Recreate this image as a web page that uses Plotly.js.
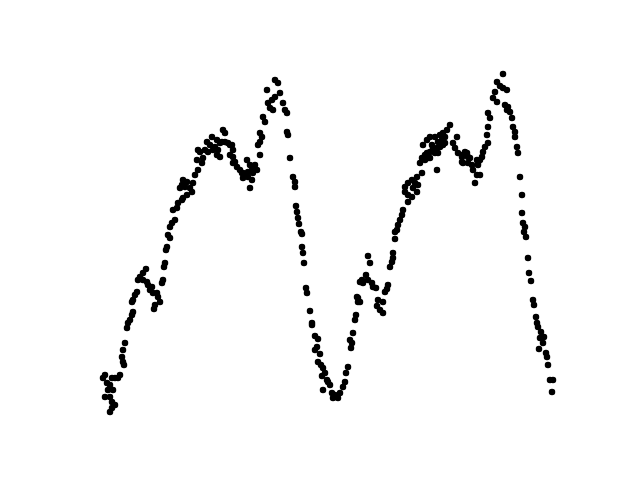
<!DOCTYPE html>
<html>
<head>
<meta charset="utf-8">
<script src="https://cdn.plot.ly/plotly-3.0.1.min.js"></script>
<style>
  html, body { margin: 0; padding: 0; background: #fff; }
  #chart { width: 640px; height: 480px; }
</style>
</head>
<body>
<div id="chart"></div>
<script>
// points, grouped by stretch of the curve
var rise1_x = [166,165,164,146,143,140,138,143,147,148,150,153,157,158,160,155,154,163,162,152,
               137,135,133,132,133,132,130,128,127,125,123,122,123,124,120,118,115,112,105,103,
               107,110,113,108,105,110,112,112,115,110,
               183,187,182,180,185,190,192,187,183,182,178,177,173,175,172,170,168,170,167]
var rise1_y = [250,263,267,269,273,277,280,280,282,285,290,293,293,297,302,305,309,280,283,287,
               292,295,300,302,312,315,320,323,328,343,350,357,362,365,375,378,378,378,375,378,
               383,385,390,390,397,397,402,408,405,412,
               180,182,185,188,187,188,192,195,198,200,203,208,210,220,223,227,235,238,247]

var peak1_x = [275,278,267,280,275,272,268,283,270,273,285,287,263,265,287,288,260,262,223,225,
               212,207,210,215,220,225,228,232,233,213,217,220,205,198,203,197,202,198,195,193,
               233,235,237,240,243,247,250,255,257,253,248,243,252,250,260,258,260,
               217,222,230,218,208,200,230,233,242,245,248,252]
var peak1_y = [80,83,90,93,97,100,103,103,108,110,110,113,117,122,132,135,133,137,130,133,
               137,142,145,147,143,142,143,145,150,150,155,157,150,150,158,160,163,170,175,183,
               157,162,167,170,173,160,165,165,170,173,177,178,180,188,155,145,142,
               140,142,145,150,152,152,155,163,173,175,172,170]

var fall1_x = [290,293,295,295,296,297,298,299,301,302,302,303,304,306,307,
               310,312,312,315,318,317,315,320,318,321,323,325,322,327,328,330,323,332,335,333,338]
var fall1_y = [158,177,182,187,206,212,218,224,232,234,247,253,263,288,293,
               311,323,325,336,339,347,350,354,362,365,368,373,376,380,382,385,390,393,395,398,398]

var rise2_x = [340,343,345,346,348,351,352,350,353,355,356,357,358,
               395,395,393,393,392,390,368,370,366,362,360,363,368,372,373,376,388,387,385,358,360,
               378,383,377,380,383,
               422,417,412,415,418,408,405,413,417,408,405,412,408,403,402,400,398,397]
var rise2_y = [393,387,382,373,367,348,343,340,333,320,315,297,302,
               232,239,253,258,262,267,256,263,275,280,282,283,280,283,287,288,285,289,292,298,302,
               300,302,306,310,313,
               173,177,180,183,185,183,187,188,192,195,192,197,202,210,215,220,225,230]

var peak2_x = [450,447,443,440,445,442,445,438,435,430,427,423,432,437,435,430,425,422,428,420,
               437,457,453,455,458,462,468,463,
               433,427,438,425,430,443,440,462,465,477,478,462,
               503,497,500,503,507,495,493,497,505,508,507,510,488,490,512,488,513,515,515,487,
               488,517,518,485,483,482,480,478,467,470,472,468,473,477,480,475,520]
var peak2_y = [125,130,133,135,137,140,143,142,137,137,140,145,145,148,153,152,155,158,158,163,
               170,137,143,148,153,157,157,163,
               148,153,153,160,158,145,147,155,152,160,163,162,
               74,82,86,88,90,92,98,102,105,107,110,112,113,118,118,127,127,132,137,135,
               143,147,153,147,152,157,160,165,153,158,165,163,170,175,175,183,177]

var fall2_x = [522,522,523,525,524,526,528,529,531,533,534,536,537,538,541,544,540,543,539,546,
               547,548,550,553,552]
var fall2_y = [195,213,223,227,232,237,258,273,281,300,305,317,323,327,332,337,338,343,349,353,
               357,365,380,380,392]

var xs = [].concat(rise1_x, peak1_x, fall1_x, rise2_x, peak2_x, fall2_x)
var ys = [].concat(rise1_y, peak1_y, fall1_y, rise2_y, peak2_y, fall2_y)

var trace = {
    x: xs,
    y: ys,
    mode: 'markers',
    type: 'scatter',
    marker: {color: 'black', size: 6.5},
    hoverinfo: 'skip'
}

var layout = {
    width: 640,
    height: 480,
    margin: {l: 0, r: 0, t: 0, b: 0, pad: 0},
    paper_bgcolor: 'white',
    plot_bgcolor: 'white',
    showlegend: false,
    xaxis: {range: [0, 640], visible: false, fixedrange: true},
    yaxis: {range: [480, 0], visible: false, fixedrange: true}
}

Plotly.newPlot('chart', [trace], layout, {displayModeBar: false, staticPlot: true})
</script>
</body>
</html>
